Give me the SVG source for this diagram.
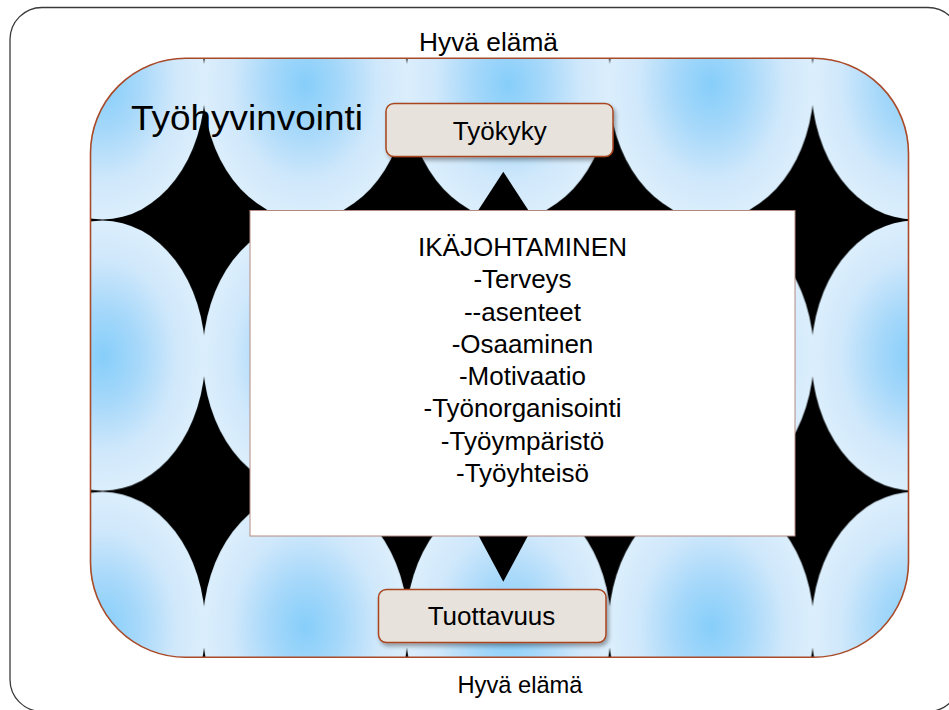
<svg xmlns="http://www.w3.org/2000/svg" width="949" height="710" viewBox="0 0 949 710">
  <defs>
    <radialGradient id="tileGlow" cx="0.5" cy="0.5" r="0.5">
      <stop offset="0" stop-color="#86cefa"/>
      <stop offset="0.35" stop-color="#a6d8fa"/>
      <stop offset="0.72" stop-color="#d0e8fb"/>
      <stop offset="1" stop-color="#dbeefc"/>
    </radialGradient>
    <!-- glow tile: a slightly over-wide ellipse on black, clipped by the tile -->
    <pattern id="tiles" patternUnits="userSpaceOnUse" x="1.2" y="220" width="202.85" height="271.3">
      <rect width="202.85" height="271.3" fill="#000"/>
      <ellipse cx="101.425" cy="135.65" rx="102.6" ry="135.1" fill="url(#tileGlow)"/>
    </pattern>
    <filter id="softShadow" x="-10%" y="-20%" width="125%" height="150%">
      <feDropShadow dx="2" dy="3" stdDeviation="2" flood-color="#000" flood-opacity="0.35"/>
    </filter>
  </defs>
  <style>
    .label { font-family: "Liberation Sans", Arial, sans-serif; fill: #000; }
    .tag { fill: #e7e3dc; stroke: #a8441e; stroke-width: 1.5; filter: url(#softShadow); }
  </style>

  <rect width="949" height="710" fill="#fff"/>

  <!-- outer frame -->
  <g id="frame">
    <rect x="10" y="7.5" width="950" height="704" rx="32" ry="32" fill="none" stroke="#3a3a3a" stroke-width="1.3"/>
  </g>

  <!-- well-being area -->
  <g id="tyohyvinvointi">
    <rect x="90.5" y="58.3" width="818" height="599" rx="95" ry="95" fill="url(#tiles)" stroke="#a94a28" stroke-width="1.6"/>
    <text class="label" x="131" y="129.5" font-size="35.5" textLength="232" lengthAdjust="spacingAndGlyphs">Työhyvinvointi</text>
  </g>

  <g id="hyva-elama-top">
    <text class="label" x="488.5" y="51" font-size="26.3" text-anchor="middle">Hyvä elämä</text>
  </g>
  <g id="hyva-elama-bottom">
    <text class="label" x="520" y="693.3" font-size="23.7" text-anchor="middle">Hyvä elämä</text>
  </g>

  <!-- arrow heads between the boxes -->
  <g id="connectors" fill="#000">
    <polygon points="503.3,171.7 530.8,214 475.8,214"/>
    <polygon points="503.3,581.7 530,532 476.6,532"/>
  </g>

  <g id="ikajohtaminen">
    <rect x="250" y="210.5" width="545" height="325.5" fill="#fff" stroke="#b48a80" stroke-width="1"/>
    <g class="label" font-size="26" text-anchor="middle">
      <text x="522.5" y="256">IKÄJOHTAMINEN</text>
      <text x="522.5" y="288.3">-Terveys</text>
      <text x="522.5" y="320.6">--asenteet</text>
      <text x="522.5" y="353">-Osaaminen</text>
      <text x="522.5" y="385.2">-Motivaatio</text>
      <text x="522.5" y="417.4">-Työnorganisointi</text>
      <text x="522.5" y="449.6">-Työympäristö</text>
      <text x="522.5" y="481.8">-Työyhteisö</text>
    </g>
  </g>

  <g id="tyokyky">
    <rect class="tag" x="386" y="103.5" width="227" height="53" rx="8" ry="8"/>
    <text class="label" x="499.7" y="140" font-size="26" text-anchor="middle">Työkyky</text>
  </g>

  <g id="tuottavuus">
    <rect class="tag" x="378.5" y="589.5" width="227.5" height="53" rx="8" ry="8"/>
    <text class="label" x="491.5" y="625" font-size="26" text-anchor="middle">Tuottavuus</text>
  </g>
</svg>
